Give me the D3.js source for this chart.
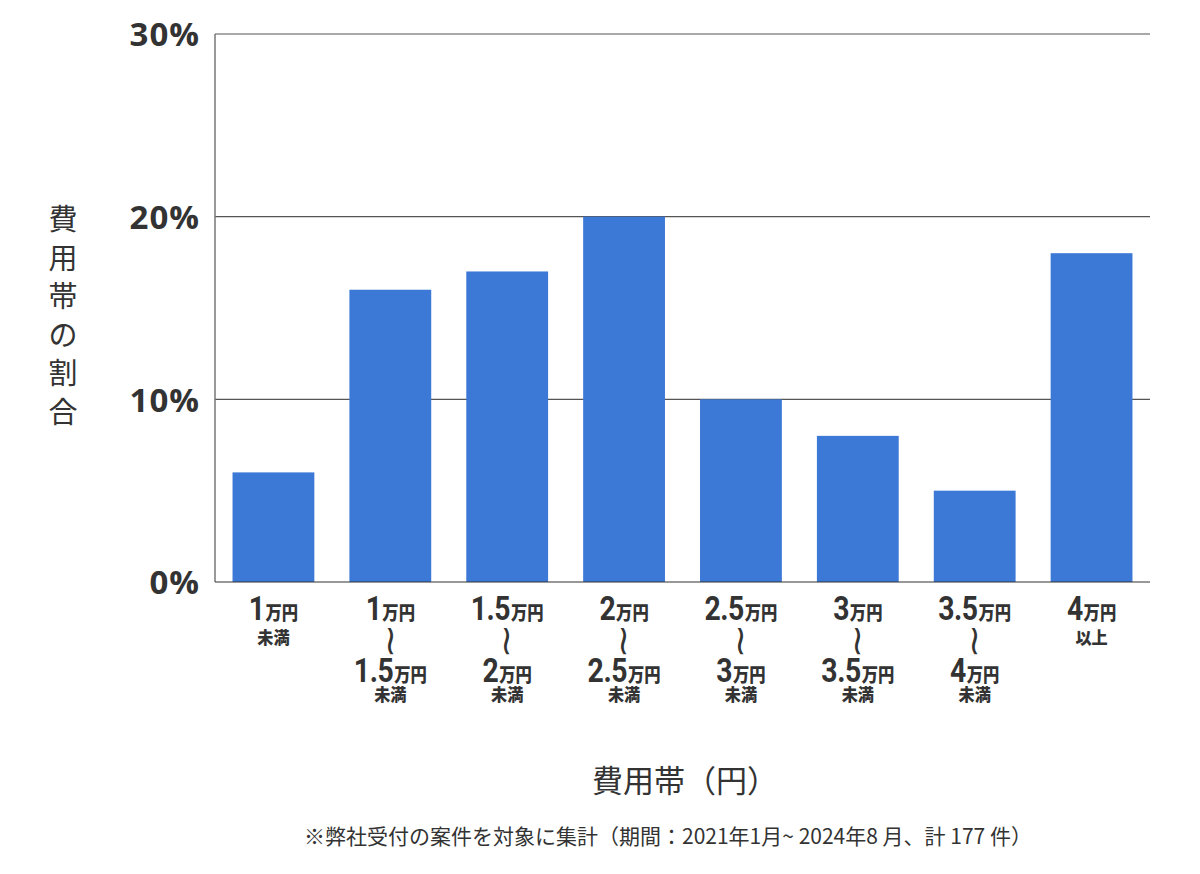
<!DOCTYPE html>
<html>
<head>
<meta charset="utf-8">
<script src="https://cdn.jsdelivr.net/npm/d3@7"></script>
<style>
  body { margin: 0; background: #fff; }
  svg text { fill: #333; }
</style>
</head>
<body>
<div id="chart"></div>
<script>
// categories: from / to (null -> single line) / note
let rangeFrom = ["1", "1", "1.5", "2", "2.5", "3", "3.5", "4"]
let rangeTo = [null, "1.5", "2", "2.5", "3", "3.5", "4", null]
let rangeNote = ["未満", "未満", "未満", "未満", "未満", "未満", "未満", "以上"]
let shares = [6, 16, 17, 20, 10, 8, 5, 18]
let yTicks = [0, 10, 20, 30]

let yTitle = ["費", "用", "帯", "の", "割", "合"]
let xTitle = "費用帯（円）"
let footnote = "※弊社受付の案件を対象に集計（期間：2021年1月~ 2024年8 月、計 177 件）"

let margin = { top: 34, right: 50, bottom: 292, left: 215 }
let width = 1200 - margin.left - margin.right
let height = 874 - margin.top - margin.bottom

let svg = d3.select("#chart")
    .append("svg")
    .attr("width", 1200)
    .attr("height", 874)

let g = svg.append("g")
    .attr("transform", "translate(" + margin.left + "," + margin.top + ")")

let xScale = d3.scaleBand()
    .domain(d3.range(shares.length))
    .range([0, width])
    .paddingInner(0.3)
    .paddingOuter(0.15)

let yScale = d3.scaleLinear()
    .domain([0, 30])
    .range([height, 0])

// grid lines
g.append("g")
    .selectAll("line")
    .data(yTicks.filter(d => d > 0))
    .enter()
    .append("line")
    .attr("x1", 0)
    .attr("x2", width)
    .attr("y1", d => yScale(d))
    .attr("y2", d => yScale(d))
    .style("stroke", "#555")
    .style("stroke-width", 1.2)

// bars
g.append("g")
    .selectAll("rect")
    .data(shares)
    .enter()
    .append("rect")
    .attr("x", (d, i) => xScale(i))
    .attr("y", d => yScale(d))
    .attr("width", xScale.bandwidth())
    .attr("height", d => height - yScale(d))
    .style("fill", "#3c78d6")

// y axis line
g.append("line")
    .attr("x1", 0).attr("x2", 0)
    .attr("y1", 0).attr("y2", height)
    .style("stroke", "#777")
    .style("stroke-width", 1.5)

// baseline
g.append("line")
    .attr("x1", 0).attr("x2", width)
    .attr("y1", height).attr("y2", height)
    .style("stroke", "#333")
    .style("stroke-width", 1.2)

// y tick labels
let yAxis = g.append("g")
    .call(d3.axisLeft(yScale).tickValues(yTicks).tickFormat(d => d + "%").tickSize(0).tickPadding(15))
yAxis.select(".domain").remove()
yAxis.selectAll("text")
    .style("font-family", "'Open Sans', sans-serif")
    .style("font-weight", 700)
    .style("font-size", "33px")
    .style("letter-spacing", "1px")
    .style("fill", "#333")
    .attr("dy", "0.36em")

// x category labels
let numFont = "Roboto, sans-serif"
let jpFont = "'Noto Sans CJK JP', sans-serif"

function amountLine(sel, num, y) {
    // slightly condensed, like the original label face
    let t = sel.append("text")
        .attr("transform", "translate(0," + y + ") scale(0.86,1)")
        .attr("text-anchor", "middle")
    t.append("tspan")
        .text(num)
        .style("font-family", numFont)
        .style("font-weight", 700)
        .style("font-size", "33px")
        .style("letter-spacing", "-0.5px")
    t.append("tspan")
        .text("万円")
        .style("font-family", jpFont)
        .style("font-weight", 900)
        .style("font-size", "19px")
        .attr("dx", 1)
}

function noteLine(sel, txt, y) {
    sel.append("text")
        .attr("transform", "translate(0," + y + ") scale(0.95,1)")
        .attr("text-anchor", "middle")
        .text(txt)
        .style("font-family", jpFont)
        .style("font-weight", 900)
        .style("font-size", "17px")
}

let labels = g.append("g")
    .selectAll("g")
    .data(shares)
    .enter()
    .append("g")
    .attr("transform", (d, i) => "translate(" + (xScale(i) + xScale.bandwidth() / 2) + "," + height + ")")

labels.each(function (d, i) {
    let sel = d3.select(this)
    amountLine(sel, rangeFrom[i], 38)
    if (rangeTo[i] == null) {
        noteLine(sel, rangeNote[i], 62)
    } else {
        // wave dash, turned upright
        sel.append("text")
            .attr("transform", "translate(0,59) rotate(90) scale(1,0.8)")
            .attr("text-anchor", "middle")
            .attr("dy", "0.32em")
            .text("~")
            .style("font-family", "'DejaVu Sans', sans-serif")
            .style("font-weight", 400)
            .style("font-size", "42px")
        amountLine(sel, rangeTo[i], 100)
        noteLine(sel, rangeNote[i], 119)
    }
})

// y title (vertical)
svg.append("g")
    .selectAll("text")
    .data(yTitle)
    .enter()
    .append("text")
    .attr("x", 63)
    .attr("y", (d, i) => 230 + i * 38.5)
    .attr("text-anchor", "middle")
    .text(d => d)
    .style("font-family", jpFont)
    .style("font-size", "29px")

// x title
svg.append("text")
    .attr("x", 685)
    .attr("y", 792)
    .attr("text-anchor", "middle")
    .text(xTitle)
    .style("font-family", jpFont)
    .style("font-size", "31px")

// footnote
svg.append("text")
    .attr("x", 668)
    .attr("y", 844)
    .attr("text-anchor", "middle")
    .text(footnote)
    .style("font-family", jpFont)
    .style("font-size", "21px")
</script>
</body>
</html>
